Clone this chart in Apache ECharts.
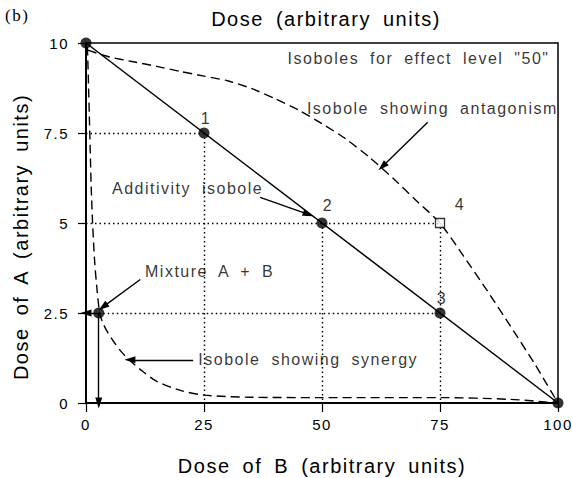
<!DOCTYPE html>
<html>
<head>
<meta charset="utf-8">
<script src="https://cdn.jsdelivr.net/npm/echarts@6/dist/echarts.min.js"></script>
<style>
    html, body { margin: 0; padding: 0; background: #fff; }
    #main { width: 572px; height: 478px; }
    #main text { letter-spacing: 1.5px; word-spacing: 5px; }
</style>
</head>
<body>
<div id="main"></div>
<script>
// additivity isobole and the points on it
var additivity = [[0, 10], [100, 0]];
var isoPoints = [[0, 10], [25, 7.5], [50, 5], [75, 2.5], [100, 0]];
var isoNames = ['', '1', '2', '3', ''];

// isobole showing antagonism
var antagonism = [[0.4, 9.8], [5, 9.61], [10, 9.48], [15, 9.35], [20, 9.21], [25, 9.08], [30, 8.95],
    [35, 8.74], [40, 8.46], [45, 8.14], [50, 7.76], [55, 7.34], [60, 6.83], [65, 6.25], [70, 5.62],
    [75, 5.0], [80, 4.08], [85, 3.12], [90, 2.12], [95, 1.1], [100, 0]];

// isobole showing synergy
var synergy = [[0.3, 9.9], [0.5, 9], [0.7, 8], [0.9, 7], [1.1, 6], [1.4, 5], [1.8, 4], [2.3, 3.2],
    [2.9, 2.5], [3.5, 2.25], [4.5, 1.98], [6, 1.68], [7.5, 1.42], [9.3, 1.18], [12, 0.88], [15, 0.6],
    [20, 0.35], [25, 0.22], [35, 0.16], [50, 0.15], [75, 0.15], [90, 0.1], [100, 0]];

var pointFour = [75, 5];
var mixture = [2.7, 2.5];

// dotted guide lines
var guides = [
    [[0, 7.5], [25, 7.5]], [[25, 7.5], [25, 0]],
    [[0, 5], [75, 5]], [[50, 5], [50, 0]], [[75, 5], [75, 0]],
    [[2.7, 2.5], [75, 2.5]]
];

// arrows (tail, head)
var arrows = [
    [[72.4, 7.8], [62.8, 6.57]],
    [[36.9, 5.71], [47.1, 5.24]],
    [[11.5, 3.43], [3.6, 2.67]],
    [[22.7, 1.2], [9.3, 1.2]],
    [[2.7, 2.5], [0, 2.5]],
    [[2.7, 2.5], [2.7, 0]]
];

var noteTexts = ['Isoboles for effect level "50"', 'Isobole showing antagonism', 'Additivity isobole',
    'Mixture A + B', 'Isobole showing synergy'];
var noteAt = [[42.7, 9.58], [46.8, 8.17], [5.5, 5.96], [12.5, 3.65], [23.8, 1.2]];

var font = 'Liberation Sans, Arial, sans-serif';
var labelOffsets = [[0, 0], [2, 0], [6, -3], [2, 0], [0, 0]];

var chart = echarts.init(document.getElementById('main'), null, {renderer: 'svg'});
var option = {
    animation: false,
    textStyle: {fontFamily: font, color: '#000'},
    grid: {
        left: 86, right: 14, top: 43, bottom: 75, outerBoundsMode: 'none',
        show: true, borderColor: '#000', borderWidth: 1.5
    },
    graphic: [
        {type: 'text', left: 5, top: 7, style: {text: '(b)', font: '17px "Liberation Serif", serif', fill: '#000'}},
        {type: 'text', x: 326, y: 19, style: {text: 'Dose (arbitrary units)', font: '20px ' + font,
                fill: '#000', textAlign: 'center', textVerticalAlign: 'middle'}}
    ],
    xAxis: {
        type: 'value', min: 0, max: 100, interval: 25,
        name: 'Dose of B (arbitrary units)', nameLocation: 'middle', nameGap: 53,
        nameTextStyle: {fontSize: 20, color: '#000', fontFamily: font},
        axisLine: {lineStyle: {color: '#000', width: 2}},
        axisTick: {length: 9, lineStyle: {color: '#000', width: 1.2}},
        axisLabel: {fontSize: 15, color: '#000', margin: 14, fontFamily: font},
        splitLine: {show: false}
    },
    yAxis: {
        type: 'value', min: 0, max: 10, interval: 2.5,
        name: 'Dose of A (arbitrary units)', nameLocation: 'middle', nameGap: 55,
        nameTextStyle: {fontSize: 20, color: '#000', fontFamily: font, padding: [0, 28, 0, 0]},
        axisLine: {show: true, lineStyle: {color: '#000', width: 2}},
        axisTick: {show: true, length: 8, lineStyle: {color: '#000', width: 1.2}},
        axisLabel: {fontSize: 15, color: '#000', margin: 17, fontFamily: font},
        splitLine: {show: false}
    },
    series: [
        {
            name: 'additivity', type: 'line', data: additivity, symbol: 'none',
            lineStyle: {color: '#000', width: 1.5}
        },
        {
            name: 'antagonism', type: 'line', data: antagonism, symbol: 'none', smooth: 0.2,
            lineStyle: {color: '#000', width: 1.4, type: [9, 5]}
        },
        {
            name: 'synergy', type: 'line', data: synergy, symbol: 'none', smooth: 0.3,
            lineStyle: {color: '#000', width: 1.4, type: [9, 5]}
        },
        {
            name: 'points', type: 'scatter', symbol: 'circle', symbolSize: 11,
            itemStyle: {color: '#000'},
            data: isoPoints.map(function (p, i) {
                return {
                    value: p, name: isoNames[i],
                    label: {show: isoNames[i] !== '', position: 'top', distance: 1, offset: labelOffsets[i]}
                };
            }),
            label: {formatter: '{b}', fontSize: 16, color: '#000', fontFamily: font},
            markLine: {
                silent: true, symbol: ['none', 'none'], label: {show: false},
                lineStyle: {color: '#000', width: 1.4, type: [1.5, 3]},
                data: guides.map(function (g) {
                    return [{coord: g[0]}, {coord: g[1]}];
                })
            },
            z: 5
        },
        {
            name: 'four', type: 'scatter', symbol: 'rect', symbolSize: 9,
            itemStyle: {color: '#fff', borderColor: '#000', borderWidth: 1.3},
            data: [{value: pointFour, name: '4'}],
            label: {show: true, formatter: '{b}', position: 'top', distance: 0, offset: [20, -5],
                fontSize: 16, color: '#000', fontFamily: font},
            z: 5
        },
        {
            name: 'mixture', type: 'scatter', symbol: 'circle', symbolSize: 11,
            itemStyle: {color: '#000'},
            data: [mixture],
            markLine: {
                silent: true, symbol: ['none', 'triangle'], symbolSize: [7, 11], label: {show: false},
                lineStyle: {color: '#000', width: 1.4, type: 'solid'},
                itemStyle: {color: '#000'},
                data: arrows.map(function (a) {
                    return [{coord: a[0]}, {coord: a[1]}];
                })
            },
            z: 5
        },
        {
            name: 'notes', type: 'scatter', symbolSize: 0,
            data: noteAt.map(function (p, i) {
                return {value: p, name: noteTexts[i]};
            }),
            label: {show: true, formatter: '{b}', position: 'right', distance: 0,
                fontSize: 16, color: '#000', fontFamily: font},
            z: 6
        }
    ]
};
chart.setOption(option);
</script>
</body>
</html>
